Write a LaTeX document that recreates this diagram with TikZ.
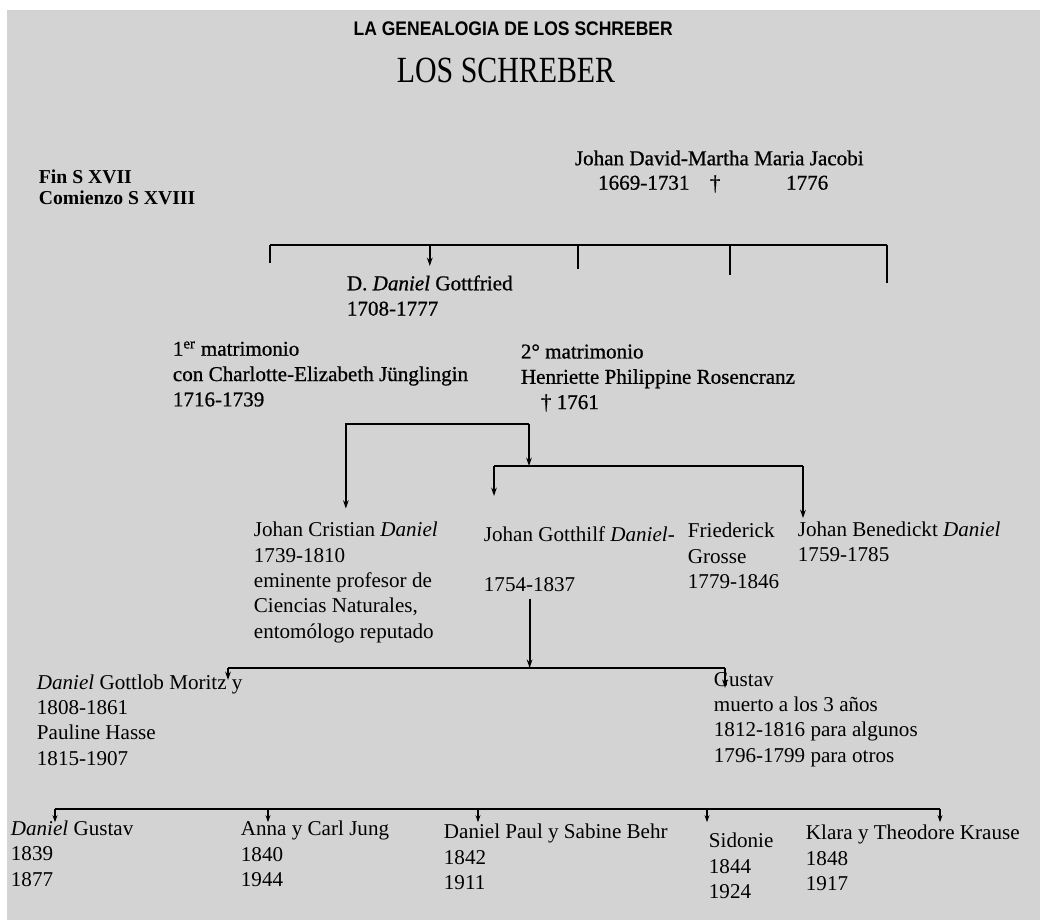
\documentclass[tikz,border=0pt]{standalone}
\usepackage{fontspec}
\setmainfont{Liberation Serif}
\newfontfamily\headfont{Liberation Sans}
\newfontfamily\dickfont{Liberation Serif}[FakeBold=0.8]
\usetikzlibrary{arrows.meta}
\definecolor{scangray}{RGB}{211,211,211}

\begin{document}
\begin{tikzpicture}[>={Stealth[length=6pt,width=4pt]}, line width=1.3pt,
	every node/.style={font=\fontsize{15}{18}\selectfont, inner sep=0pt, align=left, anchor=west},
	alt/.style={font=\dickfont\fontsize{15}{18}\selectfont}]
	\useasboundingbox (0,0) rectangle (26,23);
	\fill[scangray] (0.175,0) rectangle (26,22.75);
	% Titel
	\node[anchor=center] (Titel) at (12.83,22.27) {\scalebox{0.89}[1]{\headfont\bfseries\fontsize{14}{16}\selectfont LA GENEALOGIA DE LOS SCHREBER}};
	\node[anchor=center] (Untertitel) at (12.65,21.25) {\scalebox{0.85}[1.05]{\fontsize{25}{28}\selectfont LOS SCHREBER}};
	\node[font=\fontsize{14}{15}\selectfont\bfseries] (Epoche) at (0.95,18.31) {Fin S XVII\\Comienzo S XVIII};
	% Eltern
	\node[alt] (JohanDavid) at (14.35,19.05) {Johan David-Martha Maria Jacobi};
	\node[alt] (JDJahre) at (14.93,18.43) {1669-1731};
	\node[alt, anchor=center] (Kreuz) at (17.88,18.4) {†};
	\node[alt] (MMJJahr) at (19.63,18.43) {1776};
	\coordinate (b1a) at (6.75,16.875);
	\coordinate (b1c) at (14.45,16.875);
	\coordinate (b1d) at (18.25,16.875);
	\coordinate (b1e) at (22.175,16.875);
	\draw (b1a) -- (b1e);
	\draw (b1a) -- ++(0,-0.45);
	\draw[line width=0.9pt] (b1c) -- ++(0,-0.6);
	\draw[line width=0.9pt] (b1d) -- ++(0,-0.75);
	\draw[line width=1.6pt] (b1e) -- ++(0,-0.95);
	\node[alt] (Gottfried) at (8.65,15.61) {D. \textit{Daniel} Gottfried\\1708-1777};
	\draw[->] (Gottfried.north |- b1a) -- ([yshift=6pt]Gottfried.north);
	% Ehen
	\node[alt] (Ehe1) at (4.3,13.65) {1\textsuperscript{er} matrimonio\\con Charlotte-Elizabeth Jünglingin\\1716-1739};
	\node[alt] (Ehe2) at (13.0,13.55) {2° matrimonio\\Henriette Philippine Rosencranz\\\hspace*{0.5cm}† 1761};
	\node (Cristian) at (6.325,8.44) {Johan Cristian \textit{Daniel}\\1739-1810\\eminente profesor de\\Ciencias Naturales,\\entomólogo reputado};
	\node (Gotthilf) at (12.075,9.65) {Johan Gotthilf \textit{Daniel}-};
	\node (GotthilfJahre) at (12.075,8.375) {1754-1837};
	\node (Friederick) at (17.175,9.1) {Friederick\\Grosse\\1779-1846};
	\node (Benedickt) at (19.925,9.45) {Johan Benedickt \textit{Daniel}\\1759-1785};
	\coordinate (b2top) at (13.225,12.4);
	\coordinate (b3l) at (12.35,11.35);
	\coordinate (b3r) at (20.075,11.35);
	\draw[->] (b2top) -| ([yshift=9pt]Cristian.north);
	\draw[->] (b2top) -- (b2top |- b3l);
	\draw (b3l) -- (b3r);
	\draw[->] (b3l) -- ++(0,-0.75);
	\draw[->] (b3r) -- ([yshift=2pt]b3r |- Benedickt.north);
	% Enkel
	\coordinate (b4l) at (5.7,6.3);
	\coordinate (b4r) at (18.125,6.3);
	\draw[->] ([yshift=-4pt]GotthilfJahre.south) -- (GotthilfJahre.south |- b4l);
	\draw (b4l) -- (b4r);
	\draw[->] (b4l) -- ++(0,-0.3);
	\draw[->] (b4r) -- ++(0,-0.5);
	\node (Moritz) at (0.9,5.0) {\textit{Daniel} Gottlob Moritz y\\1808-1861\\Pauline Hasse\\1815-1907};
	\node (Gustav) at (17.825,5.01) {Gustav\\muerto a los 3 años\\1812-1816 para algunos\\1796-1799 para otros};
	% Urenkel
	\coordinate (b5a) at (1.375,2.775);
	\coordinate (b5b) at (6.7,2.775);
	\coordinate (b5c) at (11.95,2.775);
	\coordinate (b5d) at (17.675,2.775);
	\coordinate (b5e) at (23.5,2.775);
	\draw[line width=1.1pt] (b5a) -- (b5e);
	\foreach \c in {b5a,b5b,b5c,b5d,b5e}
		\draw[->, >={Stealth[length=5pt,width=3.5pt]}, line width=1.1pt] (\c) -- ++(0,-0.33);
	\node (DanielGustav) at (0.25,1.66) {\textit{Daniel} Gustav\\1839\\1877};
	\node (Anna) at (6.0,1.65) {Anna y Carl Jung\\1840\\1944};
	\node (DanielPaul) at (11.075,1.575) {Daniel Paul y Sabine Behr\\1842\\1911};
	\node (Sidonie) at (17.7,1.35) {Sidonie\\1844\\1924};
	\node (Klara) at (20.125,1.55) {Klara y Theodore Krause\\1848\\1917};
\end{tikzpicture}
\end{document}
